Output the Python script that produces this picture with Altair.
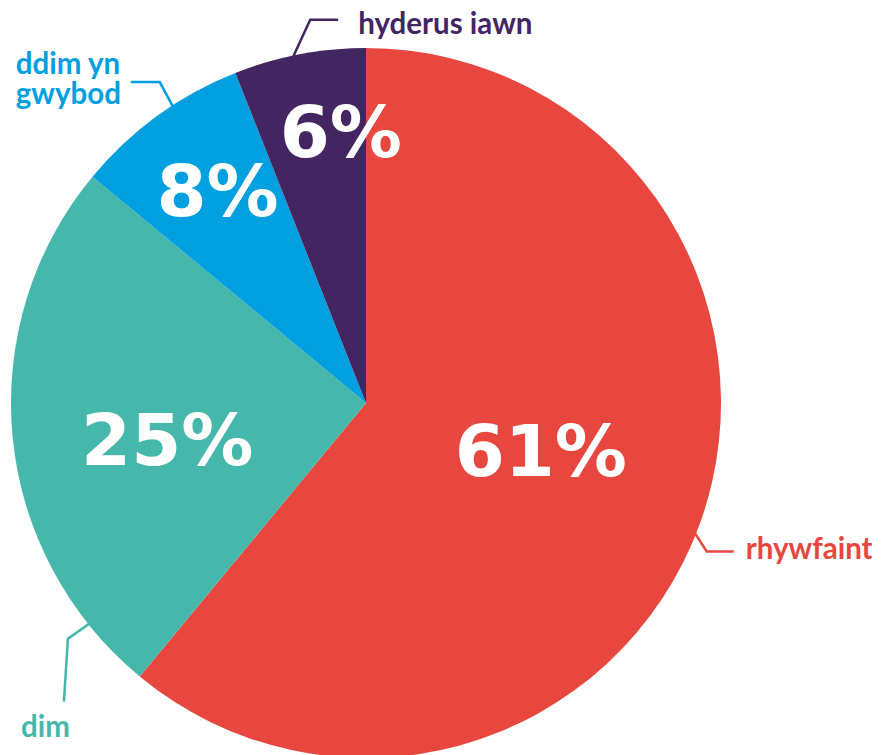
import math
import altair as alt
import pandas as pd

# ---- data ----
categories = ["rhywfaint", "dim", "ddim yn gwybod", "hyderus iawn"]
values = [61, 25, 8, 6]
pct_labels = ["61%", "25%", "8%", "6%"]
label_texts = ["rhywfaint", "dim", "ddim yn\ngwybod", "hyderus iawn"]
colors = ["#E8473F", "#46B8AB", "#009FE0", "#432562"]

# ---- layout ----
W, H = 871, 747
CX, CY, R = 358, 395, 355
FONT_BIG = "DejaVu Sans"
FONT_LBL = "Lato"

# per-slice annotation layout: pct label (radius, angle adjust), leader start angle adjust,
# elbow offset, end offset, label offset
layout = {
    "rhywfaint":      dict(pr=181, pa=-4.8, la=1.6,   elb=(13, 20),  end=(27, 0),  lab=(12, 8)),
    "dim":            dict(pr=202, pa=-4.9, la=-33.2, elb=(-23, 16), end=(-4, 63), lab=(-43, 35)),
    "ddim yn gwybod": dict(pr=260, pa=1.2,  la=2.9,   elb=(-14, -26), end=(-29, 0), lab=(-115, -8)),
    "hyderus iawn":   dict(pr=273, pa=5.5,  la=-1.3,  elb=(18, -39), end=(28, 0),  lab=(20, 14)),
}

total = sum(values)
mids = []
acc = 0
for v in values:
    mids.append((acc + v / 2) / total * 360)
    acc += v


def polar(r, deg):
    a = math.radians(deg)
    return CX + r * math.sin(a), CY - r * math.cos(a)


slices = pd.DataFrame({"cat": categories, "val": values, "order": list(range(len(values)))})

pct_rows, line_rows, lab_rows = [], [], []
for cat, mid, pl, lt in zip(categories, mids, pct_labels, label_texts):
    L = layout[cat]
    px, py = polar(L["pr"], mid + L["pa"])
    pct_rows.append({"cat": cat, "x": px, "y": py + 26, "t": pl})
    sx, sy = polar(352, mid + L["la"])
    ex, ey = sx + L["elb"][0], sy + L["elb"][1]
    fx, fy = ex + L["end"][0], ey + L["end"][1]
    for i, (xx, yy) in enumerate([(sx, sy), (ex, ey), (fx, fy)]):
        line_rows.append({"cat": cat, "i": i, "x": xx, "y": yy})
    lab_rows.append({"cat": cat, "x": fx + L["lab"][0], "y": fy + L["lab"][1], "t": lt})

pct_df = pd.DataFrame(pct_rows)
line_df = pd.DataFrame(line_rows)
lab_df = pd.DataFrame(lab_rows)

color_scale = alt.Scale(domain=categories, range=colors)

pie = alt.Chart(slices).mark_arc(radius=R, strokeWidth=0).encode(
    theta=alt.Theta("val:Q", stack=True),
    order=alt.Order("order:Q"),
    color=alt.Color("cat:N", scale=color_scale, legend=None),
    x=alt.value(CX),
    y=alt.value(CY),
)

pct = alt.Chart(pct_df).mark_text(
    font=FONT_BIG, fontWeight="bold", fontSize=72, color="white",
    align="center", baseline="alphabetic",
).encode(
    x=alt.X("x:Q", scale=None),
    y=alt.Y("y:Q", scale=None),
    text="t:N",
)

lines = alt.Chart(line_df).mark_line(strokeWidth=2.5, strokeCap="butt", strokeJoin="miter").encode(
    x=alt.X("x:Q", scale=None),
    y=alt.Y("y:Q", scale=None),
    detail="cat:N",
    order="i:Q",
    color=alt.Color("cat:N", scale=color_scale, legend=None),
)

labels = alt.Chart(lab_df).mark_text(
    font=FONT_LBL, fontWeight="bold", fontSize=29.5, align="left",
    baseline="alphabetic", lineBreak="\n", lineHeight=30,
).encode(
    x=alt.X("x:Q", scale=None),
    y=alt.Y("y:Q", scale=None),
    text="t:N",
    color=alt.Color("cat:N", scale=color_scale, legend=None),
)

chart = alt.layer(pie, lines, pct, labels).properties(
    width=W, height=H, padding=0, autosize="none"
).configure_view(stroke=None)

chart.save("out.html", embed_options={"renderer": "svg", "actions": False})
